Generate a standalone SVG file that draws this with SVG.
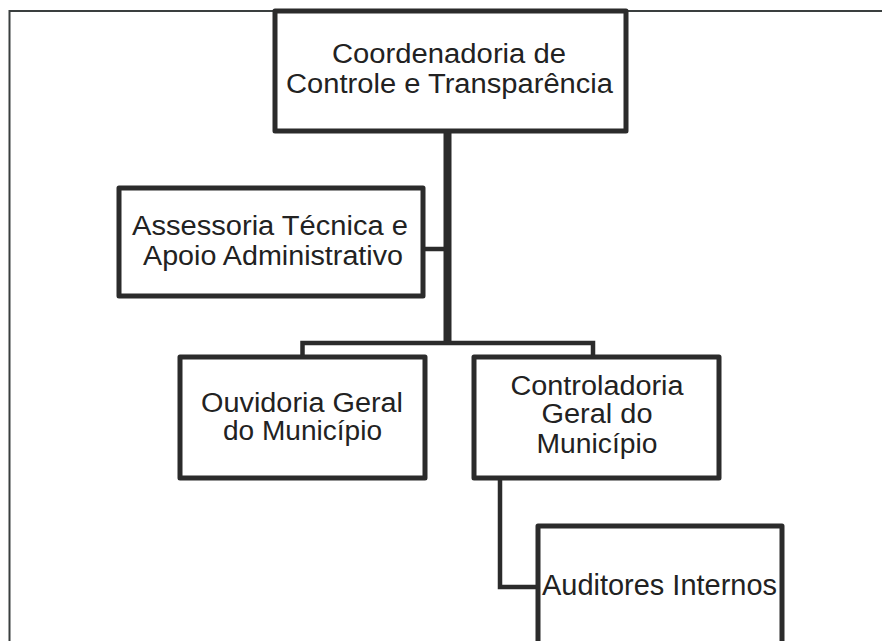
<svg xmlns="http://www.w3.org/2000/svg" width="882" height="641" viewBox="0 0 882 641">
<style>
.box{fill:#fff;stroke:#2b2b2b;stroke-width:5;stroke-linejoin:round}
.t{font-family:"Liberation Sans",Arial,sans-serif;font-size:27px;fill:#222;text-anchor:middle}
.c{fill:none;stroke:#2b2b2b;stroke-width:4.5;stroke-linejoin:miter}
.frame{fill:none;stroke:#3a3f3f;stroke-width:2}
</style>
<rect width="882" height="641" fill="#fff"/>
<path class="frame" d="M9.5,641 V11 H882"/>
<g id="connectors">
<path class="c" d="M447.5,131 V343" style="stroke-width:8"/>
<path class="c" d="M423,249 H447"/>
<path class="c" d="M302.5,357 V343 H593 V357"/>
<path class="c" d="M500,478 V587 H538"/>
</g>
<g id="coordenadoria">
<rect class="box" x="275" y="11" width="351" height="120"/>
<text class="t" x="449" y="63" textLength="234" lengthAdjust="spacingAndGlyphs">Coordenadoria de</text>
<text class="t" x="449.5" y="93" textLength="327" lengthAdjust="spacingAndGlyphs">Controle e Transparência</text>
</g>
<g id="assessoria">
<rect class="box" x="119" y="188" width="304" height="108"/>
<text class="t" x="270" y="235" textLength="276" lengthAdjust="spacingAndGlyphs">Assessoria Técnica e</text>
<text class="t" x="273" y="265" textLength="260" lengthAdjust="spacingAndGlyphs">Apoio Administrativo</text>
</g>
<g id="ouvidoria">
<rect class="box" x="180" y="357" width="245" height="121"/>
<text class="t" x="302" y="412" textLength="202" lengthAdjust="spacingAndGlyphs">Ouvidoria Geral</text>
<text class="t" x="302.5" y="440" textLength="159" lengthAdjust="spacingAndGlyphs">do Município</text>
</g>
<g id="controladoria">
<rect class="box" x="474" y="357" width="245" height="121"/>
<text class="t" x="597" y="395" textLength="173" lengthAdjust="spacingAndGlyphs">Controladoria</text>
<text class="t" x="597" y="423" textLength="111" lengthAdjust="spacingAndGlyphs">Geral do</text>
<text class="t" x="597" y="453" textLength="121" lengthAdjust="spacingAndGlyphs">Município</text>
</g>
<g id="auditores">
<rect class="box" x="538" y="526" width="244" height="130"/>
<text class="t" x="659.5" y="595" style="font-size:29px" textLength="235" lengthAdjust="spacingAndGlyphs">Auditores Internos</text>
</g>
</svg>
